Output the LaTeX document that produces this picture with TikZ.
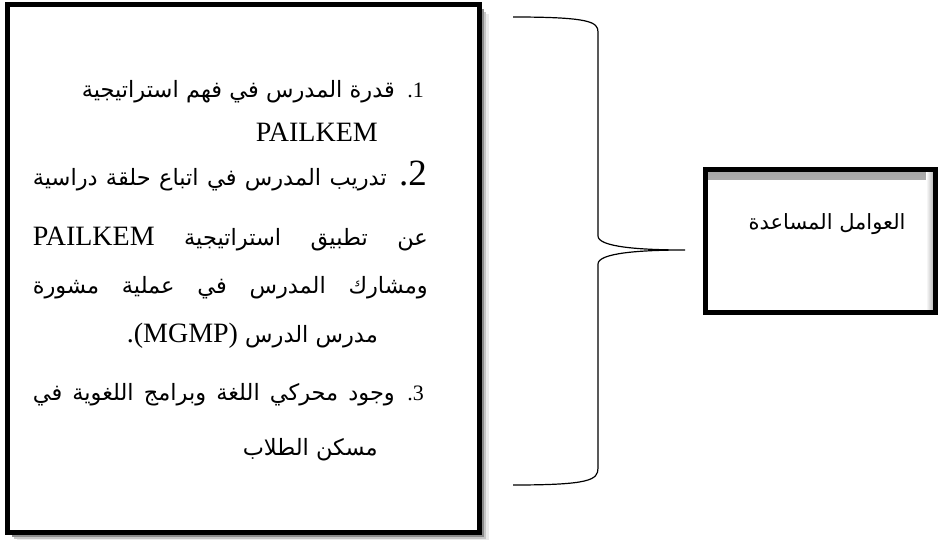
\documentclass[tikz,border=0pt]{standalone}
\usepackage{fontspec}
\setmainfont{Liberation Serif}
\newfontfamily\arabicfont[Script=Arabic]{DejaVu Sans}
\TeXXeTstate=1
\usetikzlibrary{shadows}
\newcommand{\arline}[2]{\makebox[#1pt][s]{#2}}
\newcommand{\latword}[1]{{\rmfamily\fontsize{28}{30}\selectfont #1}}
\begin{document}
\begin{tikzpicture}[x=1pt,y=-1pt,
	box/.style={draw, line width=5pt, fill=white, inner sep=0pt},
	ar/.style={font=\arabicfont\fontsize{22.5}{27}\selectfont, anchor=base east, inner sep=0pt},
	num/.style={font=\fontsize{22}{26}\selectfont, anchor=base east, inner sep=0pt},
	brace/.style={line width=1.2pt}]
	\useasboundingbox (0,0) rectangle (940,540);
	% left box with the three factors
	\node[box, minimum width=472pt, minimum height=527pt,
		drop shadow={shadow xshift=9.5pt, shadow yshift=-9.5pt, fill=black!8, opacity=1},
		drop shadow={shadow xshift=7pt, shadow yshift=-7pt, fill=black!22, opacity=1},
		drop shadow={shadow xshift=4.5pt, shadow yshift=-4.5pt, fill=black!45, opacity=1}] (factors) at (243,268.5) {};
	\node[num] (n1) at (424,98) {.1};
	\node[ar] (l1) at (395,98) {\arline{313}{\beginR قدرة المدرس في فهم استراتيجية\endR}};
	\node[ar] (l2) at (378,142) {\latword{PAILKEM}};
	\node[num, font=\fontsize{37}{40}\selectfont] (n2) at (427,186) {.2};
	\node[ar] (l3) at (387,186) {\arline{354}{\beginR تدريب المدرس في اتباع حلقة دراسية\endR}};
	\node[ar] (l4) at (428,246) {\arline{395}{\beginR عن تطبيق استراتيجية \beginL\latword{PAILKEM}\endL\endR}};
	\node[ar] (l5) at (428,293) {\arline{395}{\beginR ومشارك المدرس في عملية مشورة\endR}};
	\node[ar] (l6) at (378,342) {\beginR مدرس الدرس \beginL\latword{.(MGMP)}\endL\endR};
	\node[num] (n3) at (424,400) {.3};
	\node[ar] (l7) at (395,400) {\arline{362}{\beginR وجود محركي اللغة وبرامج اللغوية في\endR}};
	\node[ar] (l8) at (378,455) {\beginR مسكن الطلاب\endR};
	% brace
	\coordinate (btop) at (513,17);
	\coordinate (btip) at (685,250);
	\coordinate (bbot) at (513,485);
	\draw[brace] (btop) .. controls (590,17) and (598,22) .. (598,32) -- (598,236)
		.. controls (598,247) and (640,250) .. (btip)
		.. controls (640,250) and (598,253) .. (598,264) -- (598,468)
		.. controls (598,480) and (590,485) .. (bbot);
	% right box
	\node[box, minimum width=230pt, minimum height=142pt,
		path picture={
			\shade[top color=black!35, bottom color=white] (path picture bounding box.north west) rectangle ([yshift=-10pt]path picture bounding box.north east);
			\shade[left color=white, right color=black!35] ([xshift=-9pt]path picture bounding box.north east) rectangle (path picture bounding box.south east);
		}] (helper) at (820,241) {};
	\node[ar, anchor=base, font=\arabicfont\fontsize{21}{25}\selectfont] (helpertxt) at (827,230) {\beginR العوامل المساعدة\endR};
\end{tikzpicture}
\end{document}
